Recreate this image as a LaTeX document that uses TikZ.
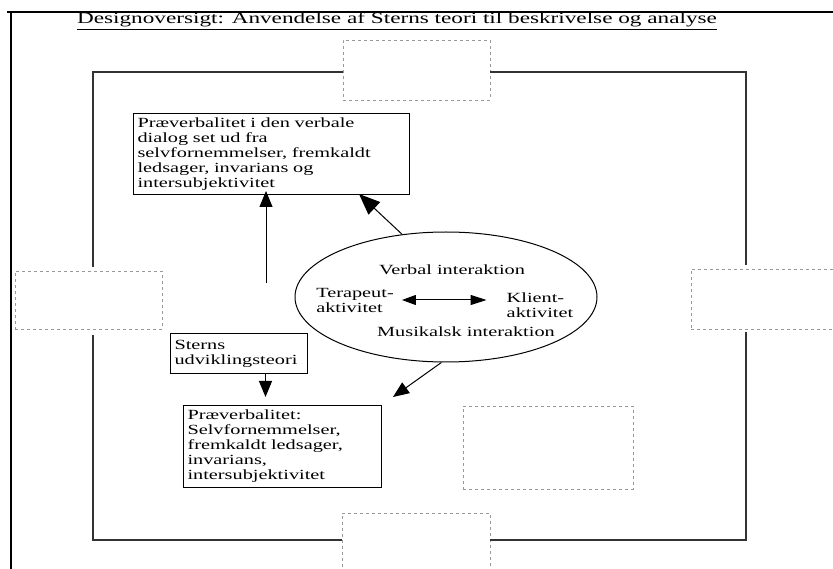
\documentclass[tikz,border=0pt]{standalone}
\usepackage{fontspec}
\setmainfont{Liberation Serif}[FakeStretch=1.45]
\usetikzlibrary{arrows.meta,shapes.geometric}

\tikzset{
  frame/.style={line width=2pt, black},
  innerline/.style={line width=1.4pt, black!80},
  ghost/.style={draw=black!40, dash pattern=on 3pt off 3pt, line width=0.8pt, inner sep=0pt},
  textbox/.style={draw, line width=1pt, align=left, anchor=north west,
    inner xsep=4pt, inner ysep=2.5pt, font=\fontsize{14}{15}\selectfont},
  plain/.style={font=\fontsize{14}{15}\selectfont, inner sep=0pt},
  arr/.style={line width=1pt, -{Triangle[length=16pt,width=13pt]}},
  bigarr/.style={line width=1pt, -{Triangle[length=21pt,width=17pt]}},
  dblarr/.style={line width=1pt, {Triangle[length=14pt,width=10pt]}-{Triangle[length=16pt,width=10pt]}}
}

\begin{document}
\begin{tikzpicture}[x=1pt,y=-1pt]
\useasboundingbox (0,0) rectangle (833,569);
\begin{scope}
\clip (0,0) rectangle (833,569);

% page frame
\draw[frame] (833,12) -- (7,12);
\draw[frame] (11,12) -- (11,569);

% title
\node[plain, font=\fontsize{16}{18}\selectfont] (title) at (397,21) {\underline{Designoversigt: Anvendelse af Sterns teori til beskrivelse og analyse}};

% empty dashed placeholder boxes
\node[ghost, minimum width=147pt, minimum height=60pt] (dtop) at (416.5,70) {};
\node[ghost, minimum width=147pt, minimum height=58pt] (dleft) at (88.5,300) {};
\node[ghost, minimum width=149pt, minimum height=60pt] (dright) at (765.5,299) {};
\node[ghost, minimum width=170pt, minimum height=83pt] (dmid) at (548,447.5) {};
\node[ghost, minimum width=148pt, minimum height=67pt] (dbot) at (416,546.5) {};

% inner frame
\coordinate (tl) at (93,72);
\coordinate (tr) at (746,72);
\coordinate (bl) at (93,540);
\coordinate (br) at (746,540);
\draw[innerline] (dtop.west |- tl) -- (tl) -- ([yshift=4pt]tl |- dleft.north);
\draw[innerline] ([yshift=-6pt]tl |- dleft.south) -- (bl) -- (dbot.west |- bl);
\draw[innerline] (dtop.east |- tr) -- (tr) -- ([yshift=4pt]tr |- dright.north);
\draw[innerline] ([yshift=-3pt]tr |- dright.south) -- (br) -- (dbot.east |- br);

% text boxes
\node[textbox, text width=268pt, minimum height=81pt] (boxA) at (133,113)
  {Præverbalitet i den verbale\\dialog set ud fra\\selvfornemmelser, fremkaldt\\ledsager, invarians og\\intersubjektivitet};
\node[textbox, text width=129pt, minimum height=40pt] (boxS) at (170,333)
  {Sterns\\udviklingsteori};
\node[textbox, text width=190pt, minimum height=82pt] (boxB) at (183,405)
  {Præverbalitet:\\Selvfornemmelser,\\fremkaldt ledsager,\\invarians,\\intersubjektivitet};

% interaction ellipse
\node[draw, ellipse, line width=1pt, minimum width=302pt, minimum height=130pt, inner sep=0pt] (ell) at (446,297) {};
\node[plain] (verbal) at (452,270) {Verbal interaktion};
\node[plain, align=left] (tera) at (355,300) {Terapeut-\\aktivitet};
\node[plain, align=left] (klient) at (540,305) {Klient-\\aktivitet};
\node[plain] (musik) at (466,332) {Musikalsk interaktion};

% connectors
\draw[dblarr] ([xshift=8pt]tera.east) -- ([xshift=-20pt]tera.east -| klient.west);
\coordinate (upstart) at (266,283);
\draw[arr] (upstart) -- ([yshift=4pt]upstart |- boxA.south);
\draw[bigarr] (ell.125) -- ([xshift=-51pt,yshift=1pt]boxA.south east);
\coordinate (lowtip) at (393,397);
\draw[arr] (ell.266) -- (lowtip);
\draw[arr] ([xshift=26.5pt]boxS.south) -- ([xshift=26.5pt,yshift=8pt]boxS.south |- boxB.north);
\end{scope}
\end{tikzpicture}
\end{document}
